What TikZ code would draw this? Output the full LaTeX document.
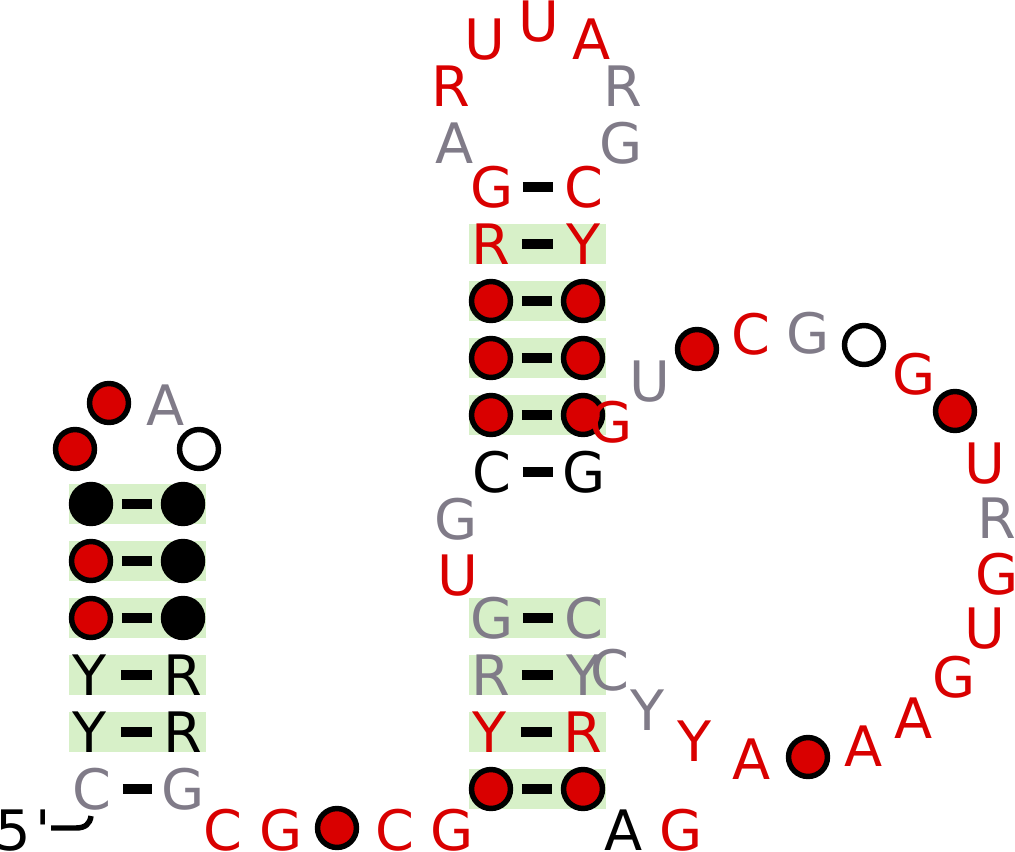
\documentclass[tikz,border=0pt]{standalone}
\usepackage{fontspec}
\setmainfont[Ligatures=TeXOff]{DejaVu Sans}
\definecolor{nred}{HTML}{D90000}
\definecolor{ngray}{HTML}{807B88}
\definecolor{nband}{HTML}{D7F0C8}

\begin{document}
\begin{tikzpicture}[x=0.75pt,y=-0.75pt,line width=4.1pt]
  \tikzstyle{base}=[inner sep=0pt,outer sep=0pt,xshift=0.75pt,font=\fontsize{41.8}{50}\selectfont,text height=30.5pt,text depth=0pt]
  \tikzstyle{red}=[base,text=nred]
  \tikzstyle{gray}=[base,text=ngray]
  \tikzstyle{blk}=[base,text=black]
  \tikzstyle{dot}=[circle,inner sep=0pt,outer sep=0pt,minimum size=29.2pt,draw=black,line width=4.1pt]
  \tikzstyle{rdot}=[dot,fill=nred]
  \tikzstyle{kdot}=[dot,fill=black]
  \tikzstyle{odot}=[dot,fill=white]
  \tikzstyle{band}=[fill=nband,inner sep=0pt,outer sep=0pt,minimum width=102.75pt,minimum height=30.4pt]
  \tikzstyle{pair}=[line width=8.2pt,shorten >=23.2pt,shorten <=23.2pt]

  \useasboundingbox (0,0) rectangle (1015,851);

  % bands
  \foreach \y in {504,561,618,675,732}
    \node[band] (bl\y) at (137,\y) {};
  \foreach \y in {244,301,358,415,618,675,732,789}
    \node[band] (bm\y) at (537.5,\y) {};

  % left stem
  \node[kdot] (a1) at (91,504) {};  \node[kdot] (b1) at (183,504) {};
  \node[rdot] (a2) at (91,561) {};  \node[kdot] (b2) at (183,561) {};
  \node[rdot] (a3) at (91,618) {};  \node[kdot] (b3) at (183,618) {};
  \node[blk]  (a4) at (89,675) {Y}; \node[blk]  (b4) at (182,675) {R};
  \node[blk]  (a5) at (89,732) {Y}; \node[blk]  (b5) at (182,732) {R};
  \node[gray] (a6) at (91,789) {C}; \node[gray] (b6) at (182,789) {G};

  % left loop
  \node[rdot] (l1) at (75,449) {};
  \node[rdot] (l2) at (109,403) {};
  \node[gray] (l3) at (165,405) {A};
  \node[odot] (l4) at (199,449) {};

  % upper stem
  \node[red]  (c1) at (491,187) {G}; \node[red]  (d1) at (583,187) {C};
  \node[red]  (c2) at (490,244) {R}; \node[red]  (d2) at (583,244) {Y};
  \node[rdot] (c3) at (491,301) {};  \node[rdot] (d3) at (583,301) {};
  \node[rdot] (c4) at (491,358) {};  \node[rdot] (d4) at (583,358) {};
  \node[rdot] (c5) at (491,415) {};  \node[rdot] (d5) at (583,415) {};
  \node[blk]  (c6) at (491,472) {C}; \node[blk]  (d6) at (583,472) {G};

  % lower stem
  \node[gray] (e1) at (491,618) {G}; \node[gray] (f1) at (583,618) {C};
  \node[gray] (e2) at (490,675) {R}; \node[gray] (f2) at (583,675) {Y};
  \node[red]  (e3) at (489,732) {Y}; \node[red]  (f3) at (582,732) {R};
  \node[rdot] (e4) at (491,789) {};  \node[rdot] (f4) at (583,789) {};

  % hairpin
  \node[red]  (h1) at (450,86) {R};
  \node[red]  (h2) at (484,39) {U};
  \node[red]  (h3) at (538,21) {U};
  \node[red]  (h4) at (591,39) {A};
  \node[gray] (h5) at (622,86) {R};
  \node[gray] (h6) at (620,143) {G};
  \node[gray] (h7) at (454,143) {A};

  % junction
  \node[gray] (j1) at (455,519) {G};
  \node[red]  (j2) at (457,575) {U};

  % big loop
  \node[red]  (m1) at (610,422) {G};
  \node[gray] (m2) at (649,381) {U};
  \node[rdot] (m3) at (697,349) {};
  \node[red]  (m4) at (750,334) {C};
  \node[gray] (m5) at (807,333) {G};
  \node[odot] (m6) at (864,345) {};
  \node[red]  (m7) at (913,374) {G};
  \node[rdot] (m8) at (955,411) {};
  \node[red]  (m9) at (984,463) {U};
  \node[gray] (m10) at (996,518) {R};
  \node[red]  (m11) at (996,574) {G};
  \node[red]  (m12) at (984,628) {U};
  \node[red]  (m13) at (953,677) {G};
  \node[red]  (m14) at (913,718) {A};
  \node[red]  (m15) at (863,746) {A};
  \node[rdot] (m16) at (808,757) {};
  \node[red]  (m17) at (751,759) {A};
  \node[red]  (m18) at (694,741) {Y};
  \node[gray] (m19) at (647,710) {Y};
  \node[gray] (m20) at (609,670) {C};

  % bottom strand
  \node[blk]  (s1) at (22,830) {5\kern3pt'};
  \node[red]  (s2) at (222,830) {C};
  \node[red]  (s3) at (280,830) {G};
  \node[rdot] (s4) at (337,828) {};
  \node[red]  (s5) at (394,830) {C};
  \node[red]  (s6) at (451,830) {G};
  \node[blk]  (s7) at (623,830) {A};
  \node[red]  (s8) at (680,830) {G};

  % base pairs
  \foreach \p/\q in {a1/b1,a2/b2,a3/b3,a4/b4,a5/b5,a6/b6,c1/d1,c2/d2,c3/d3,c4/d4,c5/d5,c6/d6,e1/f1,e2/f2,e3/f3,e4/f4}
    \draw[pair] (\p.center) -- (\q.center);

  % 5' tail
  \coordinate (t1) at (51,828);
  \coordinate (t2) at (91,816);
  \draw (t1) -- (76,828) .. controls (85,828) and (90,824) .. (t2);
\end{tikzpicture}
\end{document}
